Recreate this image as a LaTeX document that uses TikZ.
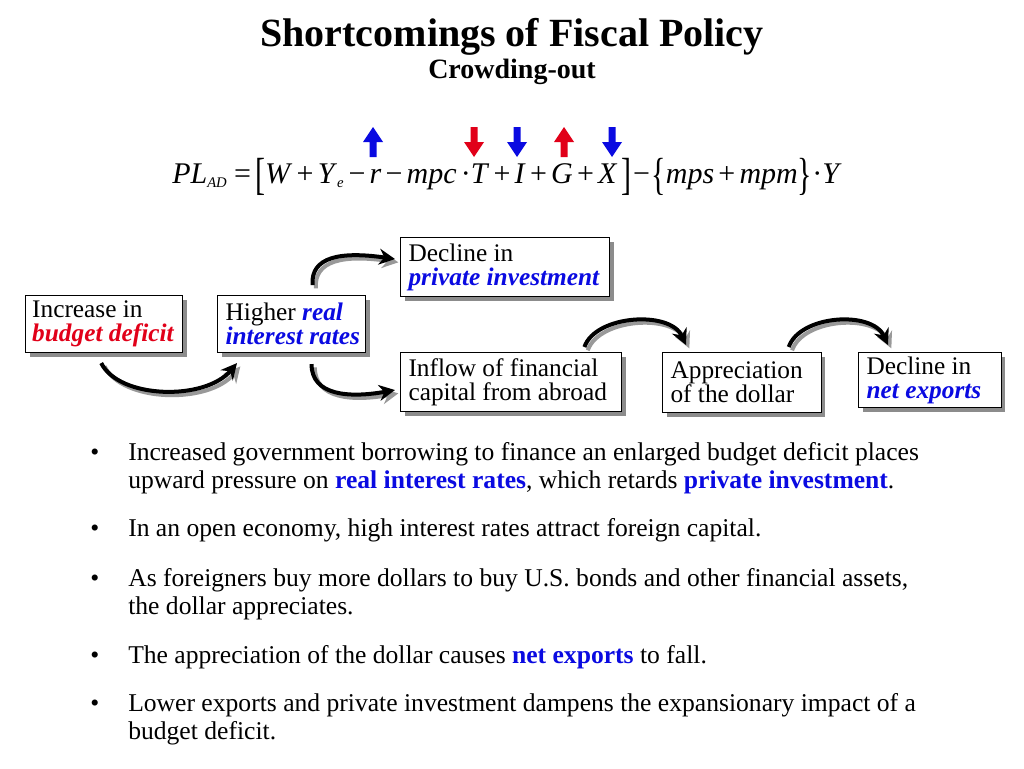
\documentclass[tikz,border=0pt]{standalone}
\usepackage{fontspec}
\setmainfont{Liberation Serif}
\usetikzlibrary{calc,arrows.meta,shadows}
\definecolor{myblue}{RGB}{10,10,225}
\definecolor{myred}{RGB}{225,0,25}
\newcommand\eqsp{\hspace{0.14em}}
\newcommand\tallbr[1]{\raisebox{-0.2em}{\scalebox{1}[1.5]{#1}}}
\newcommand\subsc[1]{\textsubscript{\textit{\fontsize{11}{11}\selectfont #1}}}
\newcommand\arrowup[2]{\fill[#2,shift={(#1,142)}] (0,-15) -- (10,0) -- (3.5,0) -- (3.5,15) -- (-3.5,15) -- (-3.5,0) -- (-10,0) -- cycle;}
\newcommand\arrowdown[2]{\fill[#2,shift={(#1,142)}] (0,15) -- (10,0) -- (3.5,0) -- (3.5,-15) -- (-3.5,-15) -- (-3.5,0) -- (-10,0) -- cycle;}
\newcommand\bi[2]{\textcolor{#1}{\bfseries\itshape #2}}
\tikzset{
  box/.style={draw=black, line width=0.8pt, fill=white, align=left, anchor=north west,
    inner xsep=6pt, inner ysep=0pt, font=\fontsize{19}{18}\selectfont,
    execute at begin node={\spaceskip=0pt\xspaceskip=0pt\relax},
    drop shadow={shadow xshift=3pt, shadow yshift=-3pt, fill=black!45, opacity=1}},
  flow/.style={line width=3pt, -{Stealth[length=12pt,width=12pt,inset=4pt]},
    preaction={draw=black!40, line width=3pt, -{Stealth[length=12pt,width=12pt,inset=4pt]},
      transform canvas={shift={(2.5pt,-2.5pt)}}}},
  bul/.style={anchor=base west, inner sep=0pt, font=\fontsize{19.2}{21}\selectfont},
}
\begin{document}
\begin{tikzpicture}[x=0.75pt,y=-0.75pt]
\useasboundingbox[fill=white] (0,0) rectangle (1024,768);
% titles
\node[anchor=base, inner sep=0pt] (title) at (512,46) {\fontsize{30}{36}\selectfont\bfseries Shortcomings of Fiscal Policy};
\node[anchor=base, inner sep=0pt] (sub) at (512,78) {\fontsize{21}{25}\selectfont\bfseries Crowding-out};
% equation
\node[anchor=base west, inner sep=0pt] (eq) at (172,183) {\fontsize{22.5}{27}\selectfont
\textit{PL}\subsc{AD}\hspace{0.22em}=\eqsp\tallbr{[}\textit{W}\eqsp+\eqsp\textit{Y}\subsc{e}\eqsp−\eqsp\textit{r}\eqsp−\eqsp\textit{mpc}\eqsp·\textit{T}\eqsp+\eqsp\textit{I}\eqsp+\eqsp\textit{G}\eqsp+\eqsp\textit{X}\eqsp\tallbr{]}\hspace{0.05em}−\hspace{0.05em}\tallbr{\{}\textit{mps}\eqsp+\eqsp\textit{mpm}\tallbr{\}}·\textit{Y}};
\arrowup{373}{myblue}
\arrowdown{474}{myred}
\arrowdown{517}{myblue}
\arrowup{564}{myred}
\arrowdown{612}{myblue}
% boxes
\node[box, text width=108pt, minimum height=42.75pt, inner xsep=5pt] (b1) at (25,295)
  {\mbox{Increase in}\\\mbox{\bi{myred}{budget deficit}}};
\node[box, text width=99pt, minimum height=42.75pt] (b2) at (217,295)
  {\mbox{Higher \bi{myblue}{real}}\\\mbox{\bi{myblue}{interest rates}}};
\node[box, text width=145pt, minimum height=44.25pt] (b3) at (400,237)
  {\mbox{Decline in}\\\mbox{\bi{myblue}{private investment}}};
\node[box, text width=154pt, minimum height=44.25pt] (b4) at (400,352)
  {\mbox{Inflow of financial}\\\mbox{capital from abroad}};
\node[box, text width=107pt, minimum height=45pt] (b5) at (662,352)
  {\mbox{Appreciation}\\\mbox{of the dollar}};
\node[box, text width=95pt, minimum height=41.25pt] (b6) at (858,352)
  {\mbox{Decline in}\\\mbox{\bi{myblue}{net exports}}};
% connectors
\coordinate (s1) at ($(b1.south)+(-3,10)$);
\coordinate (e1) at ($(b2.south west)+(20,10)$);
\draw[flow] (s1) .. controls +(18,36) and +(-32,38) .. (e1);
\coordinate (s2) at ($(b2.north)+(21,-10)$);
\coordinate (e2) at ($(b3.west)+(-5,-8)$);
\draw[flow] (s2) .. controls +(-2,-28) and +(-55,-8) .. (e2);
\coordinate (s3) at ($(b2.south)+(20,11)$);
\coordinate (e3) at ($(b4.west)+(-5,8)$);
\draw[flow] (s3) .. controls +(0,32) and +(-45,8) .. (e3);
\coordinate (s4) at ($(b4.north east)+(-38,-5)$);
\coordinate (e4) at ($(b5.north west)+(24,-7)$);
\draw[flow] (s4) .. controls +(11,-32) and +(-16,-35) .. (e4);
\coordinate (s5) at ($(b5.north east)+(-33,-5)$);
\coordinate (e5) at ($(b6.north west)+(30,-7)$);
\draw[flow] (s5) .. controls +(11,-32) and +(-16,-35) .. (e5);
% bullets
\foreach \y/\n in {460/1,536/2,586/3,663/4,711/5}{
  \node[bul] (dot\n) at (90,\y) {•};
}
\node[bul] (l1a) at (128,460) {Increased government borrowing to finance an enlarged budget deficit places};
\node[bul] (l1b) at (128,488) {upward pressure on \textcolor{myblue}{\bfseries real interest rates}, which retards \textcolor{myblue}{\bfseries private investment}.};
\node[bul] (l2a) at (128,536) {In an open economy, high interest rates attract foreign capital.};
\node[bul] (l3a) at (128,586) {As foreigners buy more dollars to buy U.S. bonds and other financial assets,};
\node[bul] (l3b) at (128,614) {the dollar appreciates.};
\node[bul] (l4a) at (128,663) {The appreciation of the dollar causes \textcolor{myblue}{\bfseries net exports} to fall.};
\node[bul] (l5a) at (128,711) {Lower exports and private investment dampens the expansionary impact of a};
\node[bul] (l5b) at (128,739) {budget deficit.};
\end{tikzpicture}
\end{document}
